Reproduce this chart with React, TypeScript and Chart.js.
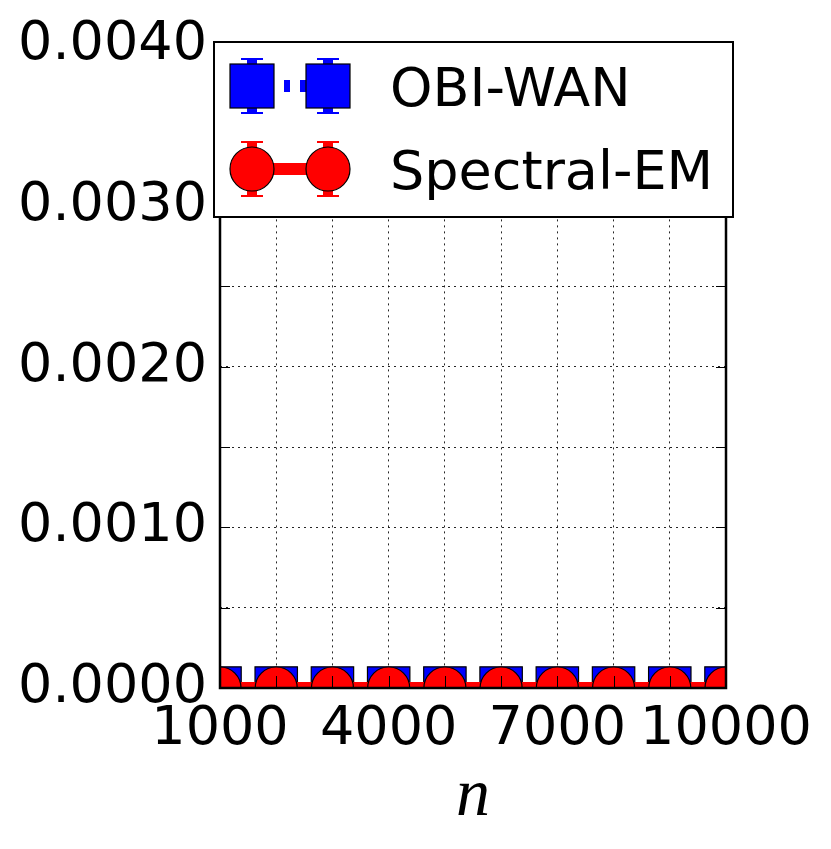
import React, { useEffect, useRef } from "react";
import { Chart, registerables } from "chart.js";

Chart.register(...registerables);

// ---- data ----
const nValues = [1000, 2000, 3000, 4000, 5000, 6000, 7000, 8000, 9000, 10000];
const obiWanError = [0, 0, 0, 0, 0, 0, 0, 0, 0, 0];
const spectralEmError = [0, 0, 0, 0, 0, 0, 0, 0, 0, 0];
const xTickLabels = [1000, 4000, 7000, 10000];
const yTickLabels = [0, 0.001, 0.002, 0.003, 0.004];
const seriesNames = ["OBI-WAN", "Spectral-EM"];

const TICK_FONT = { family: "'DejaVu Sans'", size: 54 };

const framePlugin = {
  id: "frameTicks",
  afterDatasetsDraw(chart: any) {
    const { ctx, chartArea: a, scales } = chart;
    ctx.save();
    ctx.strokeStyle = "#000";
    ctx.lineWidth = 1;
    ctx.setLineDash([]);
    const xs = scales.x;
    const ys = scales.y;
    xs.ticks.forEach((t: any) => {
      const px = Math.round(xs.getPixelForValue(t.value)) + 0.5;
      ctx.beginPath();
      ctx.moveTo(px, a.bottom);
      ctx.lineTo(px, a.bottom - 12);
      ctx.moveTo(px, a.top);
      ctx.lineTo(px, a.top + 12);
      ctx.stroke();
    });
    ys.ticks.forEach((t: any) => {
      const py = Math.round(ys.getPixelForValue(t.value)) + 0.5;
      ctx.beginPath();
      ctx.moveTo(a.left, py);
      ctx.lineTo(a.left + 10, py);
      ctx.moveTo(a.right, py);
      ctx.lineTo(a.right - 10, py);
      ctx.stroke();
    });
    ctx.lineWidth = 2.5;
    ctx.strokeRect(a.left, a.top, a.right - a.left, a.bottom - a.top);
    ctx.restore();
  },
  afterDraw(chart: any) {
    const { ctx, chartArea: a } = chart;
    ctx.save();
    // x axis title
    ctx.fillStyle = "#000";
    ctx.font = "italic 68px 'Liberation Serif'";
    ctx.textAlign = "center";
    ctx.textBaseline = "alphabetic";
    ctx.fillText("n", (a.left + a.right) / 2, 815);

    // legend box
    const L = 214, T = 42, R = 733, B = 217;
    ctx.fillStyle = "#fff";
    ctx.fillRect(L, T, R - L, B - T);
    ctx.strokeStyle = "#000";
    ctx.lineWidth = 2;
    ctx.strokeRect(L, T, R - L, B - T);

    const x1 = 252, x2 = 328;
    // OBI-WAN entry
    const y1 = 86;
    ctx.strokeStyle = "#0000ff";
    ctx.lineWidth = 12;
    ctx.setLineDash([6, 10]);
    ctx.beginPath();
    ctx.moveTo(x1, y1);
    ctx.lineTo(x2, y1);
    ctx.stroke();
    ctx.setLineDash([]);
    const drawErr = (cx: number, cy: number, color: string) => {
      ctx.fillStyle = color;
      ctx.fillRect(cx - 5, cy - 27, 10, 54);
      ctx.strokeStyle = color;
      ctx.lineWidth = 2;
      ctx.beginPath();
      ctx.moveTo(cx - 11, cy - 27);
      ctx.lineTo(cx + 11, cy - 27);
      ctx.moveTo(cx - 11, cy + 27);
      ctx.lineTo(cx + 11, cy + 27);
      ctx.stroke();
    };
    [x1, x2].forEach((cx) => {
      drawErr(cx, y1, "#0000ff");
      ctx.fillStyle = "#0000ff";
      ctx.fillRect(cx - 22, y1 - 22, 44, 44);
      ctx.strokeStyle = "#000";
      ctx.lineWidth = 1.2;
      ctx.strokeRect(cx - 22, y1 - 22, 44, 44);
    });

    // Spectral-EM entry
    const y2 = 169;
    ctx.strokeStyle = "#ff0000";
    ctx.lineWidth = 12;
    ctx.beginPath();
    ctx.moveTo(x1, y2);
    ctx.lineTo(x2, y2);
    ctx.stroke();
    [x1, x2].forEach((cx) => {
      drawErr(cx, y2, "#ff0000");
      ctx.fillStyle = "#ff0000";
      ctx.beginPath();
      ctx.arc(cx, y2, 22, 0, Math.PI * 2);
      ctx.fill();
      ctx.strokeStyle = "#000";
      ctx.lineWidth = 1.2;
      ctx.stroke();
    });

    ctx.fillStyle = "#000";
    ctx.font = "54px 'DejaVu Sans'";
    ctx.textAlign = "left";
    ctx.textBaseline = "alphabetic";
    ctx.fillText(seriesNames[0], 390, 106);
    ctx.fillText(seriesNames[1], 390, 189);
    ctx.restore();
  },
};

export default function App() {
  const ref = useRef<HTMLCanvasElement | null>(null);
  useEffect(() => {
    document.body.style.margin = "0";
    if (!ref.current) return;
    const chart = new Chart(ref.current, {
      type: "line",
      data: {
        datasets: [
          {
            label: seriesNames[0],
            data: nValues.map((n, i) => ({ x: n, y: obiWanError[i] })),
            borderColor: "#0000ff",
            backgroundColor: "#0000ff",
            borderWidth: 12,
            borderDash: [6, 10],
            pointStyle: "rect",
            pointRadius: 30,
            pointBorderColor: "#000",
            pointBorderWidth: 1.2,
            pointBackgroundColor: "#0000ff",
            clip: 0,
            order: 1,
          },
          {
            label: seriesNames[1],
            data: nValues.map((n, i) => ({ x: n, y: spectralEmError[i] })),
            borderColor: "#ff0000",
            backgroundColor: "#ff0000",
            borderWidth: 12,
            pointStyle: "circle",
            pointRadius: 21,
            pointBorderColor: "#000",
            pointBorderWidth: 1.2,
            pointBackgroundColor: "#ff0000",
            clip: 0,
            order: 0,
          },
        ],
      },
      options: {
        responsive: false,
        animation: false,
        events: [],
        layout: { padding: { left: 0, top: 42, right: 105, bottom: 0 } },
        plugins: { legend: { display: false }, tooltip: { enabled: false } },
        scales: {
          x: {
            type: "linear",
            min: 1000,
            max: 10000,
            afterFit: (s: any) => {
              s.height = 161;
            },
            grid: { color: "rgba(0,0,0,0.85)", lineWidth: 1, drawTicks: false },
            border: { display: false, dash: [2, 4] },
            ticks: {
              stepSize: 1000,
              autoSkip: false,
              maxRotation: 0,
              padding: 10,
              color: "#000",
              font: TICK_FONT,
              callback: (v: any) => (xTickLabels.includes(Number(v)) ? String(v) : ""),
            },
          },
          y: {
            type: "linear",
            min: 0,
            max: 0.004,
            afterFit: (s: any) => {
              s.width = 220;
            },
            grid: { color: "rgba(0,0,0,0.85)", lineWidth: 1, drawTicks: false },
            border: { display: false, dash: [2, 4] },
            ticks: {
              stepSize: 0.0005,
              autoSkip: false,
              padding: 13,
              color: "#000",
              font: TICK_FONT,
              callback: (v: any) => {
                const val = Number(v);
                return yTickLabels.some((t) => Math.abs(t - val) < 1e-9) ? val.toFixed(4) : "";
              },
            },
          },
        },
      },
      plugins: [framePlugin],
    });
    return () => chart.destroy();
  }, []);
  return (
    <div style={{ width: 831, height: 849, background: "#fff" }}>
      <canvas ref={ref} width={831} height={849} style={{ display: "block" }} />
    </div>
  );
}
